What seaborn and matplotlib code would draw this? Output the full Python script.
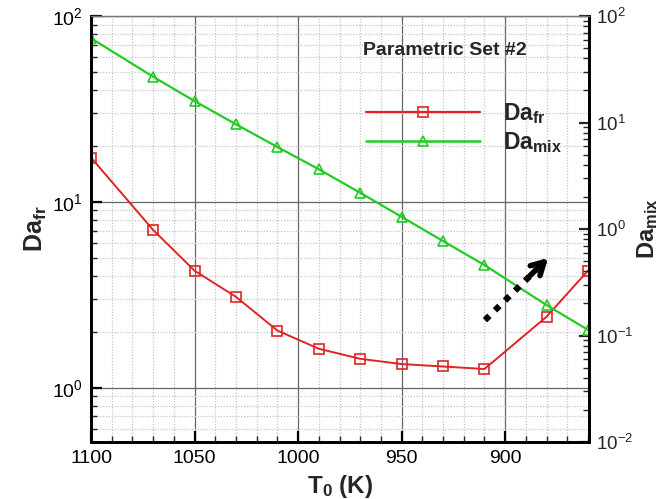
import matplotlib
matplotlib.use("Agg")
import matplotlib.pyplot as plt
import seaborn as sns
from matplotlib.ticker import LogLocator, MultipleLocator, NullFormatter
from matplotlib.lines import Line2D

# Inlet temperature and the two Damkohler numbers
temperature = [1100, 1070, 1050, 1030, 1010, 990, 970, 950, 930, 910, 880, 860]
da_fr = [17.3, 7.06, 4.26, 3.08, 2.03, 1.62, 1.43, 1.34, 1.30, 1.26, 2.41, 4.26]
da_mix = [61.8, 26.9, 15.9, 9.62, 5.89, 3.64, 2.19, 1.30, 0.771, 0.459, 0.193, 0.113]

series_labels = [r"$\mathbf{Da}_{\mathbf{fr}}$", r"$\mathbf{Da}_{\mathbf{mix}}$"]
title_text = "Parametric Set #2"

RED = "#e02424"
GREEN = "#22cc22"

sns.set_style("ticks")
plt.rcParams["font.family"] = ["Liberation Sans", "DejaVu Sans"]
plt.rcParams["mathtext.fontset"] = "custom"
plt.rcParams["mathtext.rm"] = "Liberation Sans"
plt.rcParams["mathtext.bf"] = "Liberation Sans:bold"
plt.rcParams["mathtext.it"] = "Liberation Sans:italic"

fig = plt.figure(figsize=(6.63, 4.99), dpi=100)
ax = fig.add_axes([0.1373, 0.1142, 0.7511, 0.8537])
ax2 = ax.twinx()

sns.lineplot(x=temperature, y=da_fr, ax=ax, color=RED, lw=1.4, marker="s",
             markersize=7, markerfacecolor="none", markeredgecolor=RED,
             markeredgewidth=1.2, legend=False)
sns.lineplot(x=temperature, y=da_mix, ax=ax2, color=GREEN, lw=1.6, marker="^",
             markersize=7.5, markerfacecolor="none", markeredgecolor=GREEN,
             markeredgewidth=1.2, legend=False)

ax.set_yscale("log")
ax2.set_yscale("log")
ax.set_xlim(1100, 859.5)
ax.set_ylim(0.51, 100)
ax2.set_ylim(0.01, 100)

# ticks and grid
ax.xaxis.set_major_locator(MultipleLocator(50))
ax.xaxis.set_minor_locator(MultipleLocator(10))
ax.yaxis.set_major_locator(LogLocator(base=10))
ax.yaxis.set_minor_locator(LogLocator(base=10, subs=range(2, 10)))
ax.yaxis.set_minor_formatter(NullFormatter())
ax2.yaxis.set_major_locator(LogLocator(base=10))
ax2.yaxis.set_minor_locator(LogLocator(base=10, subs=range(2, 10)))
ax2.yaxis.set_minor_formatter(NullFormatter())

ax.grid(which="major", color="#666666", lw=0.9, ls="-")
ax.grid(which="minor", color="#c4c4c4", lw=0.9, ls=(0, (1, 1.3)))
ax.set_axisbelow(True)

for a in (ax, ax2):
    for side in ("left", "bottom", "right"):
        a.spines[side].set_color("black")
        a.spines[side].set_linewidth(2)
    a.spines["top"].set_color("#777777")
    a.spines["top"].set_linewidth(0.9)

ax.tick_params(which="major", direction="in", length=8, width=1.6,
               labelsize=14, pad=6, top=False, right=False, colors="black")
ax.tick_params(which="minor", direction="in", length=4, width=1.0,
               top=False, right=False)
ax2.tick_params(which="major", direction="in", length=7, width=1.6,
                labelsize=13.5, pad=5)
ax2.tick_params(which="minor", direction="in", length=4, width=1.0)

ax.set_xlabel(r"$\mathbf{T}_{\mathbf{0}}$ (K)", fontsize=17.5, fontweight="bold",
              labelpad=4)
ax.set_ylabel(r"$\mathbf{Da}_{\mathbf{fr}}$", fontsize=18, labelpad=2)
ax2.set_ylabel(r"$\mathbf{Da}_{\mathbf{mix}}$", fontsize=17, labelpad=1,
               rotation=90)

# legend block
h_fr = Line2D([], [], color=RED, lw=1.6, marker="s", markersize=7,
              markerfacecolor="none", markeredgecolor=RED, markeredgewidth=1.2)
h_mix = Line2D([], [], color=GREEN, lw=1.8, marker="^", markersize=7.5,
               markerfacecolor="none", markeredgecolor=GREEN, markeredgewidth=1.2)
ax2.legend(handles=[h_fr, h_mix], labels=series_labels, loc="center left",
           bbox_to_anchor=(0.552, 0.737), frameon=False, handlelength=5.0,
           handletextpad=1.0, labelspacing=0.2, borderpad=0, borderaxespad=0,
           numpoints=1, fontsize=16.5)
ax2.text(0.711, 0.920, title_text, transform=ax2.transAxes, ha="center",
         va="center", fontsize=14, fontweight="bold")

# dotted trend arrow: square dots for the shaft, solid open head
ax2.plot([0.791, 0.893], [0.286, 0.403], transform=ax2.transAxes, color="black",
         lw=4.5, ls=(0, (1, 1.25)), dash_capstyle="butt", solid_capstyle="butt")
ax2.annotate("", xy=(0.918, 0.432), xytext=(0.882, 0.391),
             xycoords="axes fraction", textcoords="axes fraction",
             arrowprops=dict(arrowstyle="->,head_length=0.9,head_width=0.5",
                             lw=4, color="black", shrinkA=0, shrinkB=0))

fig.savefig("out.png", dpi=100)
